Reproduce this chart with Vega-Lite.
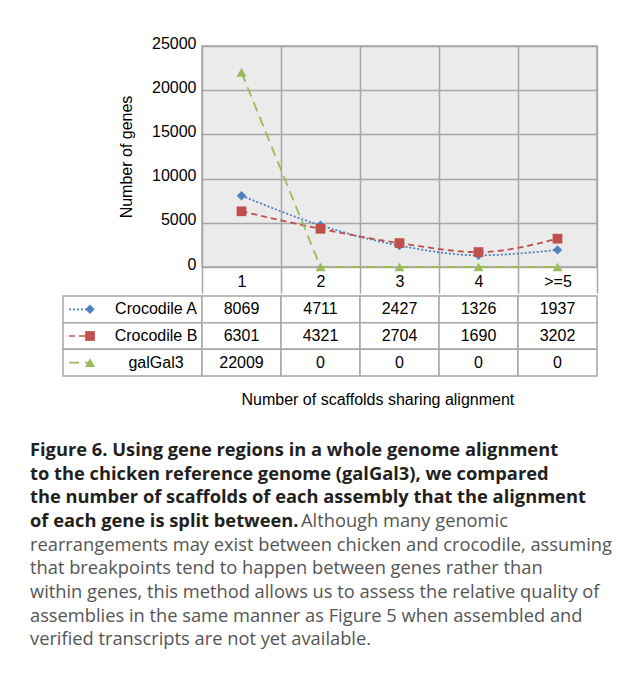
{
  "$schema": "https://vega.github.io/schema/vega-lite/v6.json",
  "padding": {"left": 29, "top": 34, "right": 0, "bottom": 0},
  "background": "white",
  "config": {"view": {"stroke": null}, "font": "Liberation Sans"},
  "datasets": {
    "d": [
      {"series": "Crocodile A", "cat": "1", "value": 8069},
      {"series": "Crocodile A", "cat": "2", "value": 4711},
      {"series": "Crocodile A", "cat": "3", "value": 2427},
      {"series": "Crocodile A", "cat": "4", "value": 1326},
      {"series": "Crocodile A", "cat": ">=5", "value": 1937},
      {"series": "Crocodile B", "cat": "1", "value": 6301},
      {"series": "Crocodile B", "cat": "2", "value": 4321},
      {"series": "Crocodile B", "cat": "3", "value": 2704},
      {"series": "Crocodile B", "cat": "4", "value": 1690},
      {"series": "Crocodile B", "cat": ">=5", "value": 3202},
      {"series": "galGal3", "cat": "1", "value": 22009},
      {"series": "galGal3", "cat": "2", "value": 0},
      {"series": "galGal3", "cat": "3", "value": 0},
      {"series": "galGal3", "cat": "4", "value": 0},
      {"series": "galGal3", "cat": ">=5", "value": 0}
    ],
    "cap": [
      {"line": 1, "part": "lead", "text": "Figure 6. Using gene regions in a whole genome alignment"},
      {"line": 2, "part": "lead", "text": "to the chicken reference genome (galGal3), we compared"},
      {"line": 3, "part": "lead", "text": "the number of scaffolds of each assembly that the alignment"},
      {"line": 4, "part": "lead", "text": "of each gene is split between."},
      {"line": 4, "part": "body", "text": "Although many genomic"},
      {"line": 5, "part": "body", "text": "rearrangements may exist between chicken and crocodile, assuming"},
      {"line": 6, "part": "body", "text": "that breakpoints tend to happen between genes rather than"},
      {"line": 7, "part": "body", "text": "within genes, this method allows us to assess the relative quality of"},
      {"line": 8, "part": "body", "text": "assemblies in the same manner as Figure 5 when assembled and"},
      {"line": 9, "part": "body", "text": "verified transcripts are not yet available."}
    ]
  },
  "spacing": 31,
  "vconcat": [
    {
      "spacing": 0,
      "title": {"text": "Number of scaffolds sharing alignment", "orient": "bottom", "anchor": "middle", "offset": 15, "dx": 64, "fontSize": 16, "fontWeight": "normal", "font": "Liberation Sans", "color": "#000"},
      "vconcat": [
        {
          "bounds": "flush",
          "spacing": 0,
          "hconcat": [
            {"width": 172, "height": 221, "data": {"values": []}, "mark": "rect"},
            {
              "width": 395, "height": 221,
              "view": {"fill": "#ebebeb", "stroke": "#a6a6a6", "strokeWidth": 1.5},
              "data": {"name": "d"},
              "encoding": {
                "x": {"field": "cat", "type": "nominal",
                  "scale": {"type": "band", "domain": ["1", "2", "3", "4", ">=5"], "paddingInner": 0, "paddingOuter": 0},
                  "axis": {"title": null, "orient": "bottom", "domain": false, "grid": true, "gridColor": "#a6a6a6", "gridWidth": 1.5, "tickBand": "extent", "ticks": true, "tickSize": 26, "tickColor": "#a6a6a6", "tickWidth": 1.5, "labelAngle": 0, "labelPadding": -20, "labelFontSize": 16, "labelColor": "#000", "labelFont": "Liberation Sans"}},
                "y": {"field": "value", "type": "quantitative",
                  "scale": {"domain": [0, 25000], "nice": false},
                  "axis": {"title": "Number of genes", "values": [0, 5000, 10000, 15000, 20000, 25000], "format": "d", "grid": true, "gridColor": "#a6a6a6", "gridWidth": 1.5, "ticks": false, "domain": false, "labelPadding": 6, "labelFontSize": 16, "labelColor": "#000", "labelOffset": -3, "labelFont": "Liberation Sans", "titleFont": "Liberation Sans", "titleFontSize": 16, "titleFontWeight": "normal", "titleColor": "#000", "minExtent": 172, "maxExtent": 172, "titlePadding": -104}},
                "color": {"field": "series", "type": "nominal", "scale": {"domain": ["Crocodile A", "Crocodile B", "galGal3"], "range": ["#4f81bd", "#c0504d", "#9bbb59"]}, "legend": null}
              },
              "layer": [
                {
                  "transform": [{"filter": "datum.series != 'galGal3'"}],
                  "mark": {"type": "line", "strokeWidth": 1.8, "interpolate": "monotone"},
                  "encoding": {"strokeDash": {"field": "series", "type": "nominal", "scale": {"domain": ["Crocodile A", "Crocodile B", "galGal3"], "range": [[2, 2], [6, 4], [10, 6]]}, "legend": null}}
                },
                {
                  "transform": [{"filter": "datum.series == 'galGal3'"}],
                  "mark": {"type": "line", "strokeWidth": 1.8},
                  "encoding": {"strokeDash": {"field": "series", "type": "nominal", "scale": {"domain": ["Crocodile A", "Crocodile B", "galGal3"], "range": [[2, 2], [6, 4], [10, 6]]}, "legend": null}}
                },
                {
                  "mark": {"type": "point", "filled": true, "opacity": 1},
                  "encoding": {
                    "shape": {"field": "series", "type": "nominal", "scale": {"domain": ["Crocodile A", "Crocodile B", "galGal3"], "range": ["diamond", "square", "triangle-up"]}, "legend": null},
                    "size": {"field": "series", "type": "nominal", "scale": {"domain": ["Crocodile A", "Crocodile B", "galGal3"], "range": [90, 100, 140]}, "legend": null}
                  }
                }
              ]
            }
          ]
        },
        {
          "bounds": "flush",
          "spacing": 0,
          "hconcat": [
            {"width": 33, "height": 80, "data": {"values": []}, "mark": "rect"},
            {
              "width": 139, "height": 80,
              "data": {"name": "d"},
              "transform": [{"filter": "datum.cat == '1'"}],
              "encoding": {
                "y": {"field": "series", "type": "nominal", "scale": {"type": "band", "domain": ["Crocodile A", "Crocodile B", "galGal3"], "paddingInner": 0, "paddingOuter": 0}, "axis": null},
                "color": {"field": "series", "type": "nominal", "scale": {"domain": ["Crocodile A", "Crocodile B", "galGal3"], "range": ["#4f81bd", "#c0504d", "#9bbb59"]}, "legend": null}
              },
              "layer": [
                {"mark": {"type": "rect", "fill": "white", "stroke": "#a6a6a6", "strokeWidth": 1.5}},
                {
                  "mark": {"type": "rule", "strokeWidth": 1.6},
                  "encoding": {
                    "x": {"datum": "sym", "type": "nominal", "scale": {"type": "point", "domain": ["sym", "name"], "padding": 0.553, "align": 0.37}, "axis": null},
                    "xOffset": {"value": -21},
                    "x2": {"datum": "sym"},
                    "x2Offset": {"value": 21},
                    "y": {"field": "series", "type": "nominal", "bandPosition": 0.5},
                    "strokeDash": {"field": "series", "type": "nominal", "scale": {"domain": ["Crocodile A", "Crocodile B", "galGal3"], "range": [[2, 2], [6, 4], [10, 6]]}, "legend": null}
                  }
                },
                {
                  "mark": {"type": "point", "filled": true, "opacity": 1},
                  "encoding": {
                    "x": {"datum": "sym", "type": "nominal", "scale": {"type": "point", "domain": ["sym", "name"], "padding": 0.553, "align": 0.37}, "axis": null},
                    "shape": {"field": "series", "type": "nominal", "scale": {"domain": ["Crocodile A", "Crocodile B", "galGal3"], "range": ["diamond", "square", "triangle-up"]}, "legend": null},
                    "size": {"field": "series", "type": "nominal", "scale": {"domain": ["Crocodile A", "Crocodile B", "galGal3"], "range": [64, 81, 121]}, "legend": null}
                  }
                },
                {
                  "mark": {"type": "text", "fontSize": 16, "font": "Liberation Sans", "color": "#000", "align": "center", "baseline": "middle"},
                  "encoding": {
                    "x": {"datum": "name", "type": "nominal", "scale": {"type": "point", "domain": ["sym", "name"], "padding": 0.553, "align": 0.37}, "axis": null},
                    "text": {"field": "series", "type": "nominal"},
                    "color": {"value": "#000"}
                  }
                }
              ]
            },
            {
              "width": 395, "height": 80,
              "data": {"name": "d"},
              "encoding": {
                "x": {"field": "cat", "type": "nominal", "scale": {"type": "band", "domain": ["1", "2", "3", "4", ">=5"], "paddingInner": 0, "paddingOuter": 0}, "axis": null},
                "y": {"field": "series", "type": "nominal", "scale": {"type": "band", "domain": ["Crocodile A", "Crocodile B", "galGal3"], "paddingInner": 0, "paddingOuter": 0}, "axis": null}
              },
              "layer": [
                {"mark": {"type": "rect", "fill": "white", "stroke": "#a6a6a6", "strokeWidth": 1.5}},
                {
                  "mark": {"type": "text", "fontSize": 16, "font": "Liberation Sans", "color": "#000", "align": "center", "baseline": "middle"},
                  "encoding": {"text": {"field": "value", "type": "quantitative", "format": "d"}}
                }
              ]
            }
          ]
        }
      ]
    },
    {
      "width": 586, "height": 213,
      "data": {"name": "cap"},
      "encoding": {
        "x": {"datum": "left", "type": "nominal", "scale": {"type": "point", "domain": ["left"], "padding": 0, "align": 0}, "axis": null},
        "y": {"field": "line", "type": "ordinal", "scale": {"type": "band", "domain": [1, 2, 3, 4, 5, 6, 7, 8, 9], "paddingInner": 0, "paddingOuter": 0}, "axis": null},
        "text": {"field": "text", "type": "nominal"}
      },
      "layer": [
        {
          "transform": [{"filter": "datum.part == 'lead'"}],
          "mark": {"type": "text", "font": "Open Sans", "fontSize": 18.3, "fontWeight": "bold", "color": "#231f20", "align": "left", "baseline": "middle"}
        },
        {
          "transform": [{"filter": "datum.part == 'body' && datum.line != 4"}],
          "mark": {"type": "text", "font": "Open Sans", "fontSize": 18.3, "fontWeight": "normal", "color": "#555555", "align": "left", "baseline": "middle"}
        },
        {
          "transform": [{"filter": "datum.part == 'body' && datum.line == 4"}],
          "mark": {"type": "text", "font": "Open Sans", "fontSize": 18.3, "fontWeight": "normal", "color": "#555555", "align": "left", "baseline": "middle", "dx": 271}
        }
      ]
    }
  ]
}
